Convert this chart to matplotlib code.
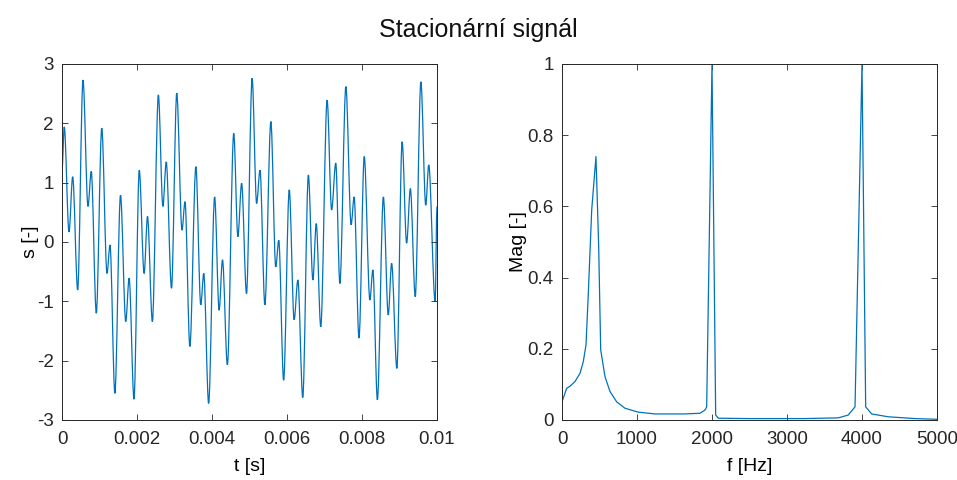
import matplotlib.pyplot as plt
from matplotlib.path import Path
from matplotlib.patches import PathPatch

plt.rcParams["font.family"] = ["Liberation Sans", "DejaVu Sans"]

# time signal: extrema
t = [0.0, 0.00006, 0.000187, 0.000285, 0.000418, 0.00056, 0.000693, 0.00078,
     0.000915, 0.00106, 0.0012, 0.00128, 0.00141, 0.00156, 0.0017, 0.00179,
     0.00192, 0.00206, 0.00219, 0.00228, 0.00241, 0.00257, 0.00269, 0.00278,
     0.00292, 0.00306, 0.0032, 0.00328, 0.00341, 0.00357, 0.0037, 0.00378,
     0.00391, 0.00407, 0.00419, 0.00428, 0.00441, 0.00458, 0.00469, 0.00479,
     0.00492, 0.00507, 0.00519, 0.00528, 0.00541, 0.00557, 0.0057, 0.00578,
     0.00591, 0.00606, 0.00619, 0.00629, 0.00642, 0.00657, 0.00669, 0.00678,
     0.0069, 0.00707, 0.00719, 0.0073, 0.00741, 0.00757, 0.00771, 0.00779,
     0.00792, 0.00806, 0.00821, 0.00829, 0.00841, 0.00857, 0.0087, 0.00879,
     0.00893, 0.00907, 0.00919, 0.00929, 0.00942, 0.00957, 0.0097, 0.00978,
     0.00995, 0.01]
s = [1.2, 1.94, 0.17, 1.10, -0.81, 2.73, 0.60, 1.19,
     -1.20, 1.92, -0.53, -0.05, -2.55, 0.79, -1.34, -0.61,
     -2.65, 1.21, -0.53, 0.43, -1.34, 2.48, 0.60, 1.35,
     -0.78, 2.51, 0.20, 0.68, -1.76, 1.27, -1.06, -0.53,
     -2.72, 0.76, -1.15, -0.30, -2.07, 1.83, 0.09, 0.99,
     -0.87, 2.76, 0.65, 1.21, -1.06, 2.03, -0.42, 0.03,
     -2.33, 0.88, -1.31, -0.64, -2.62, 1.13, -0.64, 0.31,
     -1.43, 2.39, 0.54, 1.33, -0.70, 2.62, 0.29, 0.76,
     -1.62, 1.44, -0.98, -0.47, -2.66, 0.76, -1.23, -0.36,
     -2.13, 1.69, -0.02, 0.90, -0.92, 2.70, 0.62, 1.30,
     -1.00, 0.60]

# magnitude spectrum
f = [0, 62, 107, 173, 240, 284, 320, 351, 396, 453, 489, 516, 573, 640, 729,
     840, 1018, 1240, 1640, 1840, 1907, 1929, 2000, 2049, 2084, 2500, 3240,
     3684, 3817, 3907, 4000, 4049, 4129, 4351, 4707, 5000]
mag = [0.051, 0.089, 0.095, 0.108, 0.131, 0.164, 0.211, 0.356, 0.59, 0.74,
       0.487, 0.197, 0.122, 0.080, 0.051, 0.033, 0.022, 0.017, 0.017, 0.019,
       0.028, 0.037, 1.0, 0.014, 0.005, 0.004, 0.004, 0.006, 0.014, 0.037,
       1.0, 0.037, 0.017, 0.009, 0.004, 0.002]

t_ticks = [0, 0.002, 0.004, 0.006, 0.008, 0.01]
t_labels = ["0", "0.002", "0.004", "0.006", "0.008", "0.01"]
s_ticks = [-3, -2, -1, 0, 1, 2, 3]
f_ticks = [0, 1000, 2000, 3000, 4000, 5000]
m_ticks = [0, 0.2, 0.4, 0.6, 0.8, 1]
m_labels = ["0", "0.2", "0.4", "0.6", "0.8", "1"]

line_col = "#0072BD"
ax_col = "#262626"


def extrema_path(xs, ys):
    # smooth curve through the read extrema, flat tangent at each one
    verts = [(xs[0], ys[0])]
    codes = [Path.MOVETO]
    for i in range(1, len(xs)):
        dx = (xs[i] - xs[i - 1]) / 3
        verts += [(xs[i - 1] + dx, ys[i - 1]), (xs[i] - dx, ys[i]), (xs[i], ys[i])]
        codes += [Path.CURVE4] * 3
    return Path(verts, codes)


fig = plt.figure(figsize=(9.57, 4.8), dpi=100)
ax1 = fig.add_axes([62 / 957, 60 / 480, 375 / 957, 356 / 480])
ax2 = fig.add_axes([562 / 957, 60 / 480, 375 / 957, 356 / 480])

ax1.add_patch(PathPatch(extrema_path(t, s), facecolor="none",
                        edgecolor=line_col, linewidth=0.9))
ax1.set_xlim(0, 0.01)
ax1.set_ylim(-3, 3)
ax1.set_xticks(t_ticks, t_labels)
ax1.set_yticks(s_ticks, [str(v) for v in s_ticks])
ax1.set_xlabel("t [s]", fontsize=14)
ax1.set_ylabel("s [-]", fontsize=14)
ax1.xaxis.set_label_coords(0.5, -0.132)
ax1.yaxis.set_label_coords(-0.085, 0.5)

ax2.plot(f, mag, color=line_col, linewidth=0.9)
ax2.set_xlim(0, 5000)
ax2.set_ylim(0, 1)
ax2.set_xticks(f_ticks, [str(v) for v in f_ticks])
ax2.set_yticks(m_ticks, m_labels)
ax2.set_xlabel("f [Hz]", fontsize=14)
ax2.set_ylabel("Mag [-]", fontsize=14)
ax2.xaxis.set_label_coords(0.5, -0.132)
ax2.yaxis.set_label_coords(-0.117, 0.5)

for ax in (ax1, ax2):
    ax.tick_params(direction="in", length=4, width=0.6, colors=ax_col,
                   labelsize=13.5, top=True, right=True)
    ax.tick_params(axis="x", pad=8)
    ax.tick_params(axis="y", pad=6)
    ax.xaxis.label.set_va("center")
    ax.yaxis.label.set_va("center")
    for sp in ax.spines.values():
        sp.set_color(ax_col)
        sp.set_linewidth(0.7)

fig.suptitle("Stacionární signál", fontsize=18, x=0.5, y=0.937, va="center",
             color="#111111")

fig.savefig("out.png", dpi=100)
